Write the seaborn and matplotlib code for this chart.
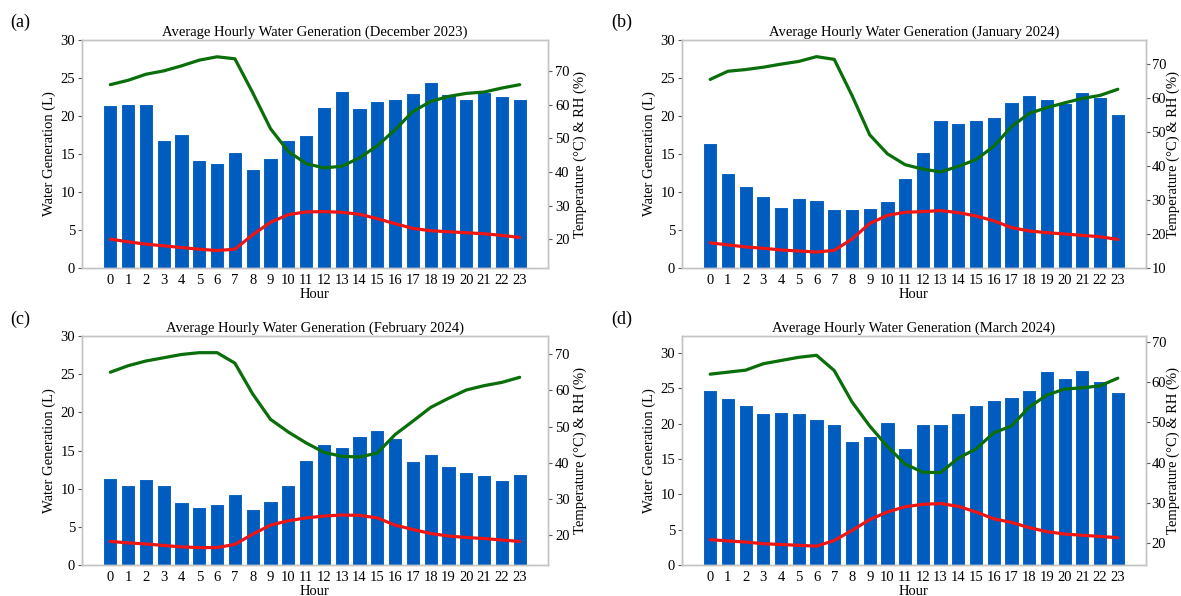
import numpy as np
import pandas as pd
import matplotlib
matplotlib.use("Agg")
import matplotlib.pyplot as plt
import seaborn as sns

# ---------------- data ----------------
hours = list(range(24))

titles = [
    "Average Hourly Water Generation (December 2023)",
    "Average Hourly Water Generation (January 2024)",
    "Average Hourly Water Generation (February 2024)",
    "Average Hourly Water Generation (March 2024)",
]
panel_labels = ["(a)", "(b)", "(c)", "(d)"]

water_dec = [21.5, 21.6, 21.6, 16.8, 17.6, 14.2, 13.8, 15.2, 13.0, 14.5, 16.8, 17.5,
             21.2, 23.3, 21.1, 22.0, 22.3, 23.0, 24.5, 22.9, 22.3, 23.1, 22.6, 22.2]
temp_dec = [20.0, 19.2, 18.5, 18.0, 17.5, 17.0, 16.6, 17.0, 21.3, 25.0, 27.3, 28.1,
            28.2, 28.0, 27.4, 26.1, 24.6, 23.2, 22.5, 22.2, 21.9, 21.6, 21.1, 20.5]
rh_dec = [66.0, 67.3, 69.1, 70.1, 71.6, 73.3, 74.3, 73.7, 63.6, 52.9, 46.1, 42.5,
          41.2, 41.7, 44.2, 47.8, 52.6, 58.0, 61.0, 62.5, 63.4, 63.8, 65.0, 66.0]

water_jan = [16.4, 12.5, 10.8, 9.5, 8.05, 9.2, 8.95, 7.72, 7.72, 7.94, 8.77, 11.8,
             15.2, 19.5, 19.1, 19.5, 19.9, 21.8, 22.8, 22.2, 21.7, 23.2, 22.5, 20.2]
temp_jan = [17.3, 16.7, 16.1, 15.7, 15.2, 14.9, 14.6, 15.1, 18.4, 23.0, 25.4, 26.3,
            26.5, 26.8, 26.2, 25.2, 23.8, 21.8, 20.8, 20.3, 19.9, 19.5, 19.1, 18.3]
rh_jan = [65.4, 67.8, 68.3, 69.0, 69.9, 70.7, 72.1, 71.3, 60.7, 49.1, 43.5, 40.3,
          39.0, 38.2, 39.8, 41.8, 45.7, 51.5, 55.4, 57.1, 58.5, 59.8, 60.7, 62.5]

water_feb = [11.45, 10.5, 11.3, 10.5, 8.3, 7.6, 8.05, 9.3, 7.35, 8.4, 10.5, 13.75,
             15.85, 15.5, 16.85, 17.75, 16.65, 13.6, 14.6, 12.95, 12.2, 11.8, 11.2, 11.9]
temp_feb = [18.3, 17.9, 17.6, 17.2, 16.8, 16.6, 16.6, 17.5, 20.3, 22.8, 24.0, 24.8,
            25.3, 25.6, 25.5, 24.8, 22.8, 21.6, 20.5, 19.8, 19.4, 19.1, 18.7, 18.3]
rh_feb = [65.0, 66.8, 68.1, 69.0, 69.9, 70.4, 70.4, 67.5, 59.0, 52.0, 48.5, 45.5,
          42.9, 41.8, 41.6, 42.7, 47.8, 51.5, 55.3, 57.8, 60.1, 61.3, 62.2, 63.6]

water_mar = [24.7, 23.6, 22.6, 21.5, 21.7, 21.5, 20.7, 19.9, 17.5, 18.3, 20.3, 16.6,
             20.0, 19.9, 21.5, 22.7, 23.4, 23.7, 24.7, 27.5, 26.5, 27.6, 26.1, 24.5]
temp_mar = [20.8, 20.5, 20.2, 19.8, 19.6, 19.4, 19.2, 20.6, 23.1, 25.8, 27.7, 29.0,
            29.6, 29.8, 29.1, 27.7, 26.0, 25.1, 23.8, 22.8, 22.2, 21.9, 21.6, 21.3]
rh_mar = [62.0, 62.5, 63.0, 64.6, 65.4, 66.2, 66.7, 62.9, 55.1, 49.1, 44.0, 39.6,
          37.6, 37.5, 41.1, 43.4, 47.4, 49.1, 53.8, 56.8, 58.3, 58.6, 59.1, 61.0]

water_all = [water_dec, water_jan, water_feb, water_mar]
temp_all = [temp_dec, temp_jan, temp_feb, temp_mar]
rh_all = [rh_dec, rh_jan, rh_feb, rh_mar]

# ---------------- style ----------------
sns.set_theme(style="white")
plt.rcParams["font.family"] = ["Liberation Serif", "DejaVu Serif"]

BLUE = "#005dbf"
GREEN = "#0a6e0a"
RED = "#ee1515"
SPINE = "#c4c4c4"

left_ylims = [(0, 30), (0, 30), (0, 30), (0, 32.4)]
right_ylims = [(11.4, 79.3), (9.9, 77.0), (11.8, 75.0), (14.5, 71.5)]

W, H = 1181, 596
fig = plt.figure(figsize=(W / 100, H / 100), dpi=100)

# axes boxes in pixels: left, top, right, bottom
boxes = [(82, 40, 548, 268), (682, 40, 1146, 268),
         (82, 336, 548, 565), (682, 336, 1146, 565)]
label_pos = [(20, 22), (622, 22), (20, 319), (622, 319)]

for i in range(4):
    l, t, r, b = boxes[i]
    ax = fig.add_axes([l / W, 1 - b / H, (r - l) / W, (b - t) / H])
    df = pd.DataFrame({"Hour": hours, "Water": water_all[i],
                       "Temp": temp_all[i], "RH": rh_all[i]})
    sns.barplot(data=df, x="Hour", y="Water", color=BLUE, saturation=1,
                width=0.8, edgecolor="white", linewidth=0.8, ax=ax)
    ax.set_xlim(-1.59, 24.59)
    ax.set_ylim(*left_ylims[i])
    ax.set_yticks([0, 5, 10, 15, 20, 25, 30])
    ax.set_xlabel("Hour", fontsize=10.5, color="black", labelpad=1)
    ax.set_ylabel("Water Generation (L)", fontsize=10.5, color="black", labelpad=3)
    ax.set_title(titles[i], fontsize=10.5, color="black", pad=3)
    ax.tick_params(axis="x", length=0, labelsize=10.5, colors="black", pad=4)
    ax.tick_params(axis="y", left=True, length=3, width=0.8, color="0.35",
                   labelsize=10.5, labelcolor="black", pad=2)

    ax2 = ax.twinx()
    sns.lineplot(x=hours, y=temp_all[i], ax=ax2, color=RED, linewidth=2.3, legend=False)
    sns.lineplot(x=hours, y=rh_all[i], ax=ax2, color=GREEN, linewidth=2.3, legend=False)
    ax2.set_xlim(-1.59, 24.59)
    ax2.set_ylim(*right_ylims[i])
    lo = int(np.ceil(right_ylims[i][0] / 10.0) * 10)
    ax2.set_yticks(list(range(lo, 71, 10)))
    ax2.set_ylabel("Temperature (°C) & RH (%)", fontsize=10.5, color="black",
                   labelpad=3 if i % 2 == 0 else 0)
    ax2.tick_params(axis="y", right=True, length=3, width=0.8, color="0.35",
                    labelsize=10.5, labelcolor="black", pad=2 if i % 2 == 0 else 1)

    for a in (ax, ax2):
        for s in a.spines.values():
            s.set_color(SPINE)
            s.set_linewidth(1.0)

    fig.text(label_pos[i][0] / W, 1 - label_pos[i][1] / H, panel_labels[i],
             fontsize=13, ha="center", va="center", color="black")

fig.savefig("out.png", dpi=100)
